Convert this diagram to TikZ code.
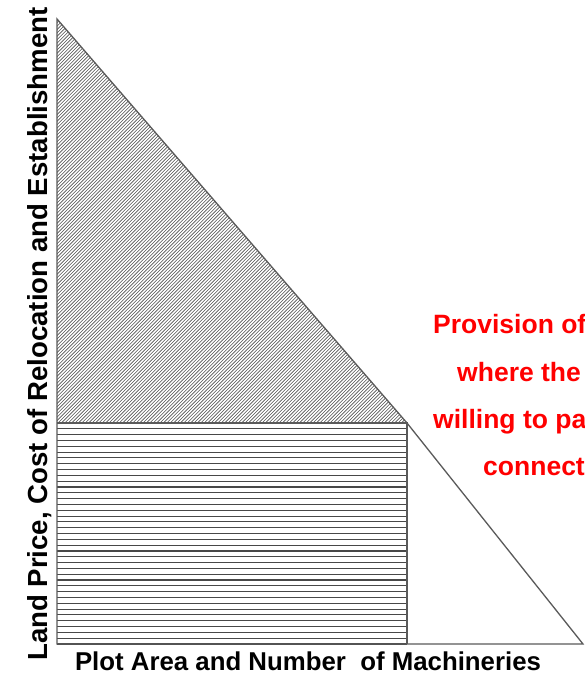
\documentclass[tikz,border=0pt]{standalone}
\usepackage{fontspec}
\setmainfont{Liberation Sans}
\definecolor{edgegray}{RGB}{90,90,90}
\definecolor{hatchgray}{RGB}{80,80,80}
\tikzset{
  edge/.style={draw=edgegray, line width=1.3pt},
  hatchline/.style={draw=hatchgray, line width=0.6pt},
  hline/.style={draw=hatchgray!90!black, line width=1.1pt},
  axlabel/.style={font=\fontsize{25.8}{30}\selectfont\bfseries, inner sep=0pt, text=black},
  redtext/.style={font=\fontsize{26.5}{30}\selectfont\bfseries, inner sep=0pt, text=red, anchor=base west},
}
\begin{document}
\begin{tikzpicture}[x=1pt,y=-1pt]
\useasboundingbox (0,0) rectangle (584,674);
\fill[white] (0,0) rectangle (584,674);
\clip (0,0) rectangle (584,674);
\coordinate (A) at (57,19);
\coordinate (B) at (57,423);
\coordinate (C) at (407,423);
\coordinate (D) at (407,644);
\coordinate (E) at (57,644);
\coordinate (F) at (583,644);
% diagonal hatching in the upper triangle
\begin{scope}
  \clip (A) -- (C) -- (B) -- cycle;
  \foreach \i in {0,...,225} {
    \draw[hatchline] ({\i*3.4-350},423) -- ++(404,-404);
  }
\end{scope}
% horizontal hatching in the rectangle
\foreach \k in {1,...,38} {
  \draw[hline] (57,{423+\k*5.816}) -- (407,{423+\k*5.816});
}
% outlines
\draw[edge] (A) -- (C) -- (F) -- (E) -- cycle;
\draw[edge] (B) -- (C) -- (D);
% labels
\node[axlabel, anchor=base] (xl) at (308,670) {Plot Area and Number\ \ of Machineries};
\node[axlabel, rotate=90, anchor=base west, font=\fontsize{27.6}{30}\selectfont\bfseries] (yl) at (47,661) {Land Price, Cost of Relocation and Establishment};
\node[redtext] (r1) at (433,333) {Provision of};
\node[redtext] (r2) at (457,381) {where the};
\node[redtext] (r3) at (433,428) {willing to pa};
\node[redtext] (r4) at (483,475) {connect};
\end{tikzpicture}
\end{document}
